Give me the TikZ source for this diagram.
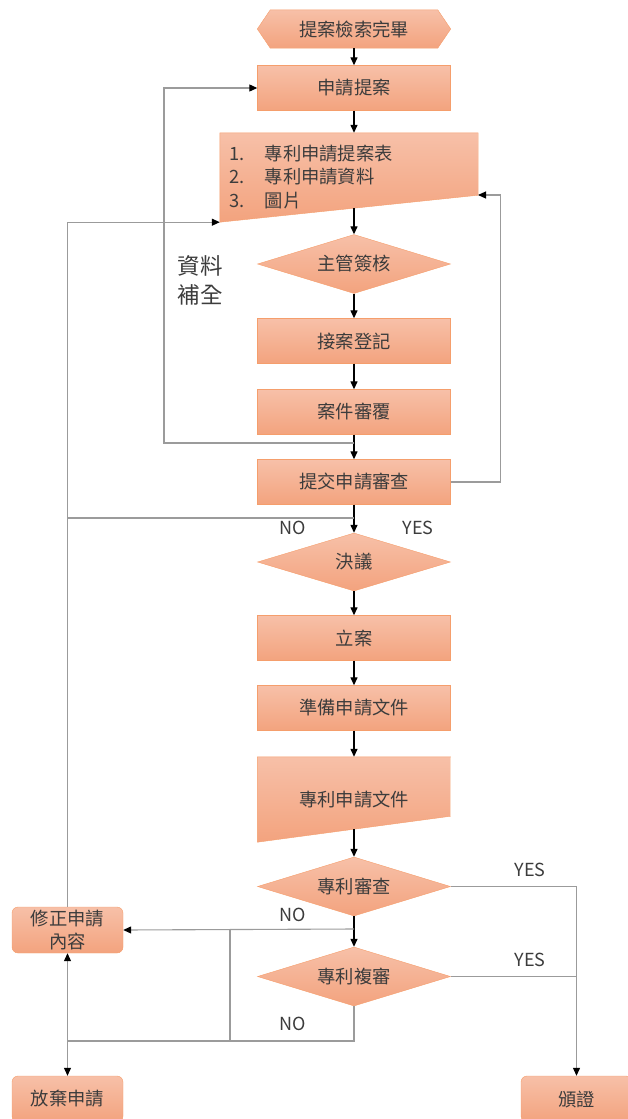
\documentclass[tikz,border=0pt]{standalone}
\usepackage{fontspec}
\setmainfont{Noto Sans CJK TC}
\usetikzlibrary{shapes.geometric,arrows.meta,backgrounds}

\definecolor{boxtop}{RGB}{247,192,168}
\definecolor{boxbot}{RGB}{243,163,126}
\definecolor{boxline}{RGB}{245,158,108}
\definecolor{txt}{RGB}{60,60,60}
\definecolor{loopline}{RGB}{155,155,155}

\tikzset{
  plain/.style={rectangle, minimum width=193pt, minimum height=45pt, inner sep=0pt,
    text=txt, font=\fontsize{18.3}{23}\selectfont, align=center},
  proc/.style={plain, draw=boxline, top color=boxtop, bottom color=boxbot},
  decide/.style={proc, diamond, aspect=3.27, minimum height=59pt},
  side/.style={proc, rounded corners=6pt, minimum width=111pt, minimum height=46pt},
  flow/.style={line width=1.3pt, -{Triangle[length=8pt,width=7pt]}},
  back/.style={draw=loopline, line width=1.1pt, -{Triangle[length=8pt,width=7pt,color=black]}},
  tag/.style={text=txt, font=\fontsize{18}{20}\selectfont}
}

\begin{document}
\begin{tikzpicture}[x=1pt,y=-1pt]
\useasboundingbox (0,0) rectangle (627,1119);

% main column
\node[plain, minimum height=38pt] (done) at (354,29) {提案檢索完畢};
\node[proc] (apply) at (354,88) {申請提案};
\node[plain, minimum width=258pt, minimum height=89pt] (forms) at (349,177.5) {};
\node[anchor=west, text=txt, font=\fontsize{18.3}{23.5}\selectfont] (list) at (226,179) {
\begin{tabular}{@{}l@{\hspace{20pt}}l@{}}
1. & 專利申請提案表 \\
2. & 專利申請資料 \\
3. & 圖片 \\
\end{tabular}
};
\node[decide] (boss) at (354,264) {主管簽核};
\node[proc] (register) at (354,341) {接案登記};
\node[proc] (review) at (354,412) {案件審覆};
\node[proc] (submit) at (354,482) {提交申請審查};
\node[decide, minimum height=58pt] (resolve) at (354,562) {決議};
\node[proc] (file) at (354,638) {立案};
\node[proc] (prepare) at (354,708) {準備申請文件};
\node[plain, minimum height=85pt] (docs) at (354,799.5) {專利申請文件};
\node[decide] (exam) at (354,886.5) {專利審查};
\node[decide] (reexam) at (354,976.5) {專利複審};

% side boxes
\node[side] (amend) at (67.5,930) {修正申請\\內容};
\node[side] (quit) at (67.5,1099) {放棄申請};
\node[side] (grant) at (576.5,1099) {頒證};

% odd shapes behind the text
\begin{scope}[on background layer]
\shade[draw=boxline, top color=boxtop, bottom color=boxbot]
  (done.west) -- ([xshift=13pt]done.north west) -- ([xshift=-13pt]done.north east)
  -- (done.east) -- ([xshift=-13pt]done.south east) -- ([xshift=13pt]done.south west) -- cycle;
\shade[draw=boxline, top color=boxtop, bottom color=boxbot]
  (forms.north west) -- (forms.north east) -- ([yshift=27pt]forms.south east)
  -- (forms.south west) -- cycle;
\shade[draw=boxline, top color=boxtop, bottom color=boxbot]
  (docs.north west) -- (docs.north east) -- ([yshift=26pt]docs.south east)
  -- (docs.south west) -- cycle;
\end{scope}

\coordinate (forms out) at (354,208);
\coordinate (forms in) at (478,195);
\coordinate (docs out) at (354,829);
\coordinate (j1) at (354,443);
\coordinate (j2) at (354,518);
\coordinate (j3) at (354,929);
\coordinate (j4) at (67.5,1041);
\coordinate (j5) at (230,929);

% straight arrows
\draw[flow] (done) -- (apply);
\draw[flow] (apply.south) -- (apply.south |- forms.north);
\draw[flow] (forms out) -- (boss.north);
\draw[flow] (boss) -- (register);
\draw[flow] (register) -- (review);
\draw[flow] (review) -- (submit);
\draw[flow] (submit) -- (resolve);
\draw[flow] (resolve) -- (file);
\draw[flow] (file) -- (prepare);
\draw[flow] (prepare) -- (docs);
\draw[flow] (docs out) -- (exam.north);
\draw[flow] (exam) -- (reexam);

% loops
\draw[back] (j1) -- ++(-190,0) |- (apply.west);
\draw[back] (submit.east) -- ++(50,0) |- (forms in);
\draw[back] (amend.north) |- (forms.south west);
\draw[draw=loopline, line width=1.1pt] (j2) -- (j2 -| amend);
\draw[back] (exam.east) -| (grant.north);
\draw[draw=loopline, line width=1.1pt] (reexam.east) -- (reexam.east -| grant);
\draw[back] (j3) -- (amend.east);
\draw[draw=loopline, line width=1.1pt] (j5) -- (j5 |- j4);
\draw[draw=loopline, line width=1.1pt] (reexam.south) |- (j4);
\draw[back] (j4) -- (amend.south);
\draw[back] (j4) -- (quit.north);

% labels
\node[tag, font=\fontsize{22.5}{29}\selectfont, align=left] (fill) at (200,280) {資料\\補全};
\node[tag] (no1) at (293,528) {NO};
\node[tag] (yes1) at (418,528) {YES};
\node[tag] (yes2) at (530,870) {YES};
\node[tag] (no2) at (293,915) {NO};
\node[tag] (yes3) at (530,960) {YES};
\node[tag] (no3) at (293,1024) {NO};
\end{tikzpicture}
\end{document}
